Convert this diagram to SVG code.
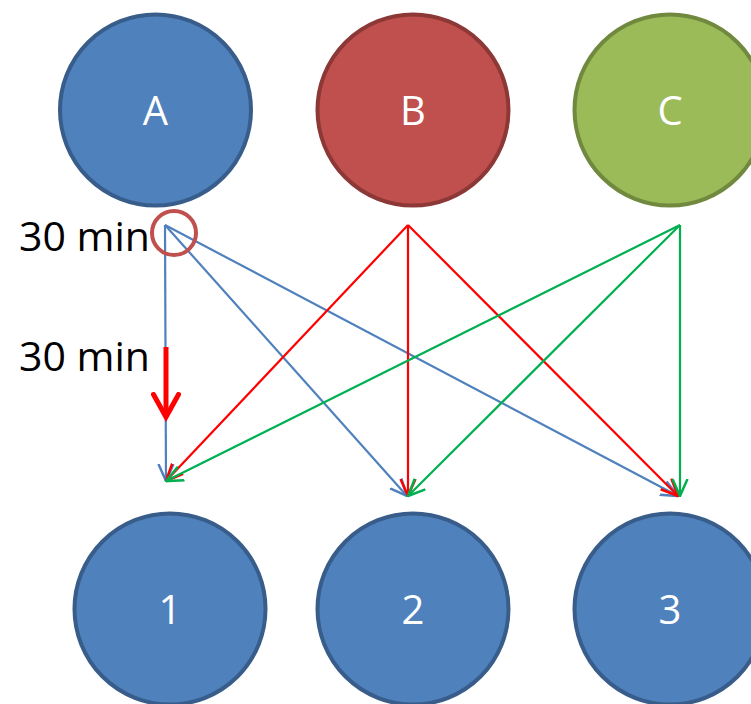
<svg xmlns="http://www.w3.org/2000/svg" width="751" height="704" viewBox="0 0 751 704">
<defs>
<style>
.lbl{font-family:"Open Sans","Liberation Sans",sans-serif;font-size:40px;fill:#fff;text-anchor:middle}
.t{font-family:"Open Sans","Liberation Sans",sans-serif;font-size:41px;fill:#000}
.blue{fill:#4F81BD;stroke:#385D8A;stroke-width:4}
.red{fill:#C0504D;stroke:#8C3836;stroke-width:4}
.green{fill:#9BBB59;stroke:#71893F;stroke-width:4}
.cb{stroke:#4F81BD;stroke-width:2.2;fill:none}
.cr{stroke:#FF0000;stroke-width:2.2;fill:none}
.cg{stroke:#00B050;stroke-width:2.2;fill:none}
</style>
<marker id="mb" viewBox="0 0 18 18" refX="17" refY="9" markerWidth="18" markerHeight="18" markerUnits="userSpaceOnUse" orient="auto"><path d="M0,1.5 L17,9 L0,16.5" fill="none" stroke="#4F81BD" stroke-width="2.5"/></marker>
<marker id="mr" viewBox="0 0 18 18" refX="17" refY="9" markerWidth="18" markerHeight="18" markerUnits="userSpaceOnUse" orient="auto"><path d="M0,1.5 L17,9 L0,16.5" fill="none" stroke="#FF0000" stroke-width="2.5"/></marker>
<marker id="mg" viewBox="0 0 18 18" refX="17" refY="9" markerWidth="18" markerHeight="18" markerUnits="userSpaceOnUse" orient="auto"><path d="M0,1.5 L17,9 L0,16.5" fill="none" stroke="#00B050" stroke-width="2.5"/></marker>
<marker id="mbig" viewBox="0 0 12 12" refX="10" refY="6" markerWidth="6" markerHeight="6" orient="auto"><path d="M1,1 L10,6 L1,11" fill="none" stroke="#FF0000" stroke-width="2" stroke-linecap="round"/></marker>
</defs>
<g id="A"><circle class="blue" cx="155.5" cy="110" r="95.5"/><text class="lbl" x="155.5" y="125">A</text></g>
<g id="B"><circle class="red" cx="413" cy="110" r="95.5"/><text class="lbl" x="413" y="125">B</text></g>
<g id="C"><circle class="green" cx="670" cy="110" r="95.5"/><text class="lbl" x="670" y="125">C</text></g>
<g id="n1"><circle class="blue" cx="170" cy="609" r="95.5"/><text class="lbl" x="170" y="624">1</text></g>
<g id="n2"><circle class="blue" cx="413" cy="609" r="95.5"/><text class="lbl" x="413" y="624">2</text></g>
<g id="n3"><circle class="blue" cx="670" cy="609" r="95.5"/><text class="lbl" x="670" y="624">3</text></g>
<g id="connectors">
<line class="cb" x1="165" y1="225" x2="166" y2="481" marker-end="url(#mb)"/>
<line class="cb" x1="165" y1="225" x2="407" y2="496" marker-end="url(#mb)"/>
<line class="cb" x1="165" y1="225" x2="678" y2="496" marker-end="url(#mb)"/>
<line class="cr" x1="408" y1="225" x2="166" y2="481" marker-end="url(#mr)"/>
<line class="cr" x1="408" y1="225" x2="408" y2="496" marker-end="url(#mr)"/>
<line class="cr" x1="408" y1="225" x2="678" y2="496" marker-end="url(#mr)"/>
<line class="cg" x1="680" y1="225" x2="166" y2="481" marker-end="url(#mg)"/>
<line class="cg" x1="680" y1="225" x2="408" y2="496" marker-end="url(#mg)"/>
<line class="cg" x1="680" y1="225" x2="680" y2="496" marker-end="url(#mg)"/>
</g>
<g id="annotations">
<circle cx="174" cy="233" r="22" fill="none" stroke="#C0504D" stroke-width="4"/>
<line x1="166" y1="347" x2="166" y2="417" stroke="#FF0000" stroke-width="5" marker-end="url(#mbig)"/>
<text class="t" x="19" y="251">30 min</text>
<text class="t" x="19" y="371">30 min</text>
</g>
</svg>
